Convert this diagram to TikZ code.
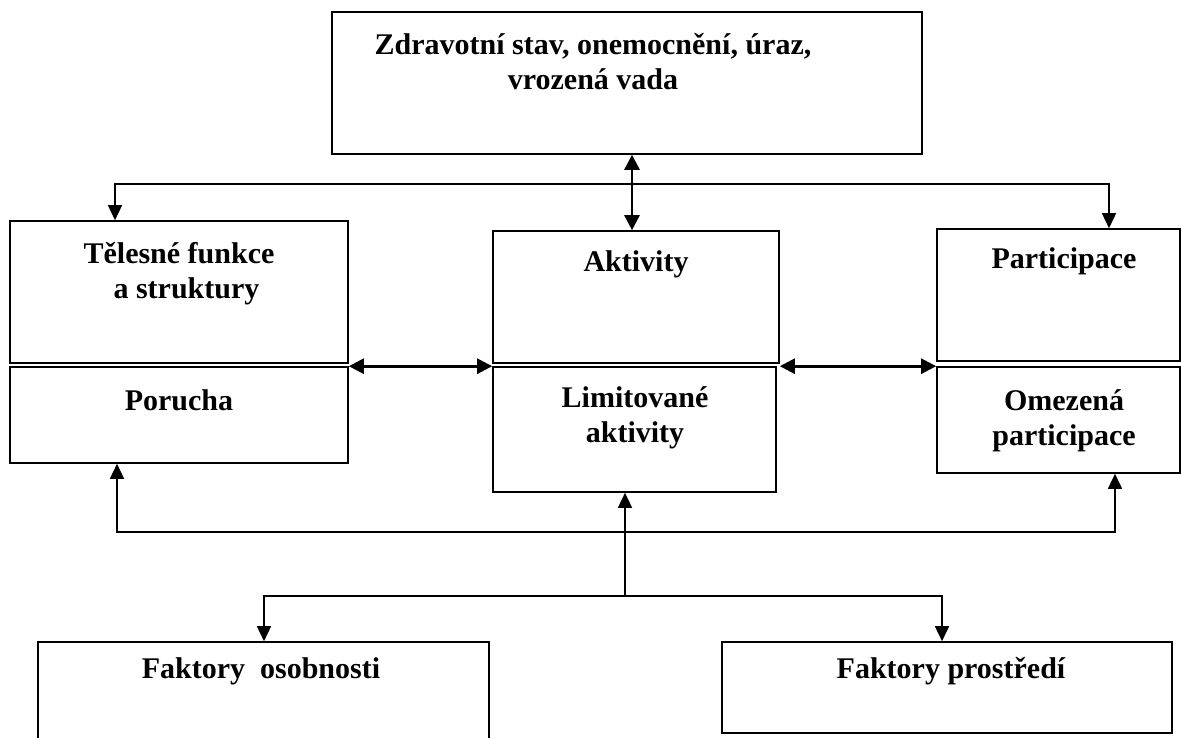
\documentclass[tikz,border=0pt]{standalone}
\usepackage{fontspec}
\setmainfont{Liberation Serif}
\usetikzlibrary{arrows.meta}
\tikzset{
  box/.style={draw, line width=1.6pt, inner sep=0pt, anchor=center},
  lbl/.style={font=\fontsize{30}{35}\selectfont\bfseries, align=center, anchor=base, inner sep=0pt},
  arr/.style={line width=1.5pt, -{Triangle[length=15pt,width=14pt]}},
  dbl/.style={line width=2.6pt, {Triangle[length=15pt,width=15pt]}-{Triangle[length=15pt,width=15pt]}},
}
\begin{document}
\begin{tikzpicture}[x=1pt,y=-1pt]
\useasboundingbox (0,0) rectangle (1182,738);
% boxes
\node[box, minimum width=590pt, minimum height=142pt] (top) at (627,83) {};
\node[box, minimum width=338pt, minimum height=142pt] (tel) at (179,292) {};
\node[box, minimum width=338pt, minimum height=96pt] (por) at (179,415) {};
\node[box, minimum width=286pt, minimum height=132pt] (akt) at (636,297) {};
\node[box, minimum width=283pt, minimum height=125pt] (lim) at (634.5,429.5) {};
\node[box, minimum width=243pt, minimum height=132pt] (par) at (1058.5,295) {};
\node[box, minimum width=243pt, minimum height=106pt] (ome) at (1058.5,420) {};
\node[box, minimum width=451pt, minimum height=120pt] (fo) at (263.5,702) {};
\node[box, minimum width=450pt, minimum height=91pt] (fp) at (947,687.5) {};
% labels (anchor base = baseline of the last line)
\node[lbl] (ttop) at (593,90) {Zdravotní stav, onemocnění, úraz,\\vrozená vada};
\node[lbl] (ttel) at (179,298) {Tělesné funkce\\\ \ a struktury};
\node[lbl] (tpor) at (179,410) {Porucha};
\node[lbl] (takt) at (636,271) {Aktivity};
\node[lbl] (tlim) at (635,442) {Limitované\\aktivity};
\node[lbl] (tpar) at (1064,268) {Participace};
\node[lbl] (tome) at (1064,445) {Omezená\\participace};
\node[lbl] (tfo) at (261,678) {Faktory\ \ osobnosti};
\node[lbl] (tfp) at (951,678) {Faktory prostředí};
% connectors
\coordinate (t1) at (632,184);
\coordinate (b1) at (625,596);
\coordinate (b2) at (625,532);
\draw[dbl] ([xshift=5pt]top.south) -- ([xshift=-4pt]akt.north);
\draw[arr] (t1) -| ([xshift=-64pt]tel.north);
\draw[arr] (t1) -| ([xshift=50.5pt]par.north);
\draw[dbl] (por.north east) -- (lim.north west);
\draw[dbl] (akt.south east |- ome.north west) -- (ome.north west);
\draw[arr] (b1) -- ([xshift=-9.5pt]lim.south);
\draw[arr] (b2) -| ([xshift=-62pt]por.south);
\draw[arr] (b2) -| ([xshift=56.5pt]ome.south);
\draw[arr] (b1) -| ([xshift=0.5pt]fo.north);
\draw[arr] (b1) -| ([xshift=-5pt]fp.north);
\end{tikzpicture}
\end{document}
